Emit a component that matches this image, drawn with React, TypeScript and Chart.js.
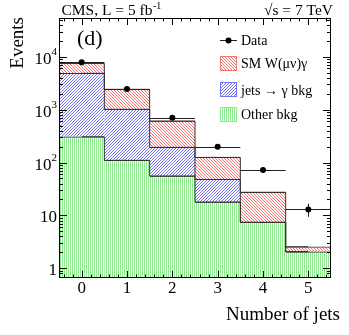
import { useEffect, useRef } from "react";
import { Chart, registerables } from "chart.js";

Chart.register(...registerables);

// ---- data ----
const categories = ["0", "1", "2", "3", "4", "5"];
const otherBkg = [307, 110, 55.6, 17.9, 7.4, 2.06];
const jetsBkg = [4553, 903, 138, 30, 0, 0];
const smWgamma = [2640, 1407, 415, 77, 20, 0.5];
const dataEvents = [7840, 2450, 703, 199, 72, 13];
const xTickLabels = ["0", "1", "2", "3", "4", "5"];
const yTickValues = [1, 10, 100, 1000, 10000];
const yTickBase = ["1", "10", "10", "10", "10"];
const yTickExp = ["", "", "2", "3", "4"];

const Y_MIN = 0.656;
const Y_MAX = 54000;

const FONT = '"Liberation Serif", "Times New Roman", serif';

const RED = "rgb(250,115,115)";
const BLUE = "rgb(115,115,250)";
const GREEN = "rgb(145,232,145)";
const OUTLINE = "#333333";

function hatch(color: string, kind: "fwd" | "back" | "vert", period: number): CanvasPattern {
  const c = document.createElement("canvas");
  c.width = period;
  c.height = period;
  const g = c.getContext("2d")!;
  g.fillStyle = "#ffffff";
  g.fillRect(0, 0, period, period);
  g.fillStyle = color;
  for (let i = 0; i < period; i++) {
    if (kind === "vert") g.fillRect(0, i, 1, 1);
    else if (kind === "back") g.fillRect(i, i, 1, 1);
    else g.fillRect(i, period - 1 - i, 1, 1);
  }
  return g.createPattern(c, "repeat")!;
}

export default function App() {
  const ref = useRef<HTMLCanvasElement | null>(null);

  useEffect(() => {
    const canvas = ref.current;
    if (!canvas) return;

    const redPat = hatch(RED, "back", 3);
    const bluePat = hatch(BLUE, "fwd", 3);
    const greenPat = hatch(GREEN, "vert", 2);

    const cumOther = otherBkg.slice();
    const cumJets = otherBkg.map((v, i) => v + jetsBkg[i]);
    const cumSM = cumJets.map((v, i) => v + smWgamma[i]);

    const DATA_INDEX = 0;

    const decor = {
      id: "decor",
      beforeDatasetDraw(chart: any, args: any) {
        if (args.index !== DATA_INDEX) return;
        const { ctx, chartArea: a, scales } = chart;
        const xs = scales.x;
        const ys = scales.y;
        ctx.save();
        ctx.beginPath();
        ctx.rect(a.left, a.top, a.right - a.left, a.bottom - a.top);
        ctx.clip();
        ctx.strokeStyle = "#222";
        ctx.lineWidth = 1;
        dataEvents.forEach((v, i) => {
          const x0 = xs.getPixelForValue(i - 0.5);
          const x1 = xs.getPixelForValue(i + 0.5);
          const xc = Math.round(xs.getPixelForValue(i)) + 0.5;
          const y = Math.round(ys.getPixelForValue(v)) + 0.5;
          const e = Math.sqrt(v);
          const yHi = ys.getPixelForValue(v + e);
          const yLo = ys.getPixelForValue(Math.max(v - e, Y_MIN * 0.5));
          ctx.beginPath();
          ctx.moveTo(x0, y);
          ctx.lineTo(x1, y);
          ctx.moveTo(xc, yHi);
          ctx.lineTo(xc, yLo);
          ctx.stroke();
        });
        ctx.restore();
      },
      afterDraw(chart: any) {
        const { ctx, chartArea: a, scales } = chart;
        const xs = scales.x;
        const ys = scales.y;
        ctx.save();
        ctx.strokeStyle = "#000";
        ctx.lineWidth = 1;
        // frame
        ctx.strokeRect(a.left + 0.5, a.top + 0.5, a.right - a.left - 1, a.bottom - a.top - 1);

        ctx.beginPath();
        // x ticks (bottom and top, inward)
        for (let k = -2; k <= 27; k++) {
          const v = k * 0.2;
          const isMajor = Math.abs(v - Math.round(v)) < 1e-6;
          const len = isMajor ? 7 : 3.5;
          const x = Math.round(xs.getPixelForValue(v)) + 0.5;
          if (x <= a.left + 1 || x >= a.right - 1) continue;
          ctx.moveTo(x, a.bottom);
          ctx.lineTo(x, a.bottom - len);
          ctx.moveTo(x, a.top);
          ctx.lineTo(x, a.top + len);
        }
        // y ticks (left and right, inward)
        for (let d = -1; d <= 4; d++) {
          for (let m = 1; m <= 9; m++) {
            const v = m * Math.pow(10, d);
            if (v < Y_MIN || v > Y_MAX) continue;
            const len = m === 1 ? 8 : 4;
            const y = Math.round(ys.getPixelForValue(v)) + 0.5;
            ctx.moveTo(a.left, y);
            ctx.lineTo(a.left + len, y);
            ctx.moveTo(a.right, y);
            ctx.lineTo(a.right - len, y);
          }
        }
        ctx.stroke();

        // x tick labels
        ctx.fillStyle = "#000";
        ctx.font = `17px ${FONT}`;
        ctx.textAlign = "center";
        ctx.textBaseline = "alphabetic";
        xTickLabels.forEach((t, i) => {
          ctx.fillText(t, xs.getPixelForValue(i), 293);
        });

        // y tick labels
        yTickValues.forEach((v, i) => {
          const y = ys.getPixelForValue(v);
          const right = 57;
          let baseRight = right;
          if (yTickExp[i]) {
            ctx.font = `11px ${FONT}`;
            ctx.textAlign = "right";
            ctx.fillText(yTickExp[i], right, y - 1.5);
            baseRight = right - ctx.measureText(yTickExp[i]).width;
          }
          ctx.font = `17px ${FONT}`;
          ctx.textAlign = "right";
          ctx.fillText(yTickBase[i], baseRight, y + 7);
        });

        // axis titles
        ctx.font = `19px ${FONT}`;
        ctx.textAlign = "right";
        ctx.fillText("Number of jets", 340, 320);
        ctx.save();
        ctx.translate(23, 17);
        ctx.rotate(-Math.PI / 2);
        ctx.textAlign = "right";
        ctx.fillText("Events", 0, 0);
        ctx.restore();

        // header
        ctx.font = `15.5px ${FONT}`;
        ctx.textAlign = "left";
        const head = "CMS, L = 5 fb";
        ctx.fillText(head, 61.5, 15);
        const hw = ctx.measureText(head).width;
        ctx.font = `10px ${FONT}`;
        ctx.fillText("-1", 61.5 + hw + 0.5, 9);
        ctx.font = `15.5px ${FONT}`;
        ctx.textAlign = "right";
        ctx.fillText("\u221As = 7 TeV", 333, 15);

        // panel label
        ctx.font = `22px ${FONT}`;
        ctx.textAlign = "left";
        ctx.fillText("(d)", 77, 45);

        // legend
        const lx0 = 220;
        const lx1 = 237;
        const tx = 241;
        ctx.font = `14px ${FONT}`;
        ctx.textAlign = "left";
        const yData = 40;
        ctx.strokeStyle = "#222";
        ctx.beginPath();
        ctx.moveTo(lx0, yData + 0.5);
        ctx.lineTo(lx1, yData + 0.5);
        ctx.stroke();
        ctx.fillStyle = "#000";
        ctx.beginPath();
        ctx.arc((lx0 + lx1) / 2, yData + 0.5, 3, 0, Math.PI * 2);
        ctx.fill();
        ctx.fillText("Data", tx, yData + 5);

        const entries: [string, CanvasPattern, string, number][] = [
          ["SM W(\u03BC\u03BD)\u03B3", redPat, RED, 63],
          ["jets \u2192 \u03B3 bkg", bluePat, BLUE, 89.5],
          ["Other bkg", greenPat, GREEN, 114],
        ];
        entries.forEach(([label, pat, col, yc]) => {
          const top = Math.round(yc - 7.5);
          ctx.fillStyle = pat;
          ctx.fillRect(lx0, top, lx1 - lx0, 15);
          ctx.strokeStyle = col;
          ctx.strokeRect(lx0 + 0.5, top + 0.5, lx1 - lx0 - 1, 14);
          ctx.fillStyle = "#000";
          ctx.fillText(label, tx, yc + 5);
        });

        ctx.restore();
      },
    };

    const barCommon = {
      type: "bar" as const,
      grouped: false,
      categoryPercentage: 1,
      barPercentage: 1,
      borderColor: OUTLINE,
      borderWidth: { top: 1, right: 0, bottom: 0, left: 0 },
      borderSkipped: false as const,
      order: 3,
    };
    const stepCommon = {
      type: "line" as const,
      stepped: "middle" as const,
      borderColor: OUTLINE,
      borderWidth: 1,
      pointRadius: 0,
      fill: false,
      order: 2,
    };

    const chart = new Chart(canvas, {
      type: "bar",
      data: {
        labels: categories,
        datasets: [
          {
            type: "line",
            label: "Data",
            data: dataEvents,
            showLine: false,
            pointRadius: 3,
            pointBackgroundColor: "#000",
            pointBorderColor: "#000",
            pointBorderWidth: 0,
            order: 0,
          } as any,
          { ...barCommon, label: "Other bkg", data: otherBkg.map((v) => [Y_MIN * 0.1, v]), backgroundColor: greenPat } as any,
          { ...barCommon, label: "jets bkg", data: cumJets.map((v, i) => [cumOther[i], v]), backgroundColor: bluePat } as any,
          { ...barCommon, label: "SM", data: cumSM.map((v, i) => [cumJets[i], v]), backgroundColor: redPat } as any,
          { ...stepCommon, label: "o1", data: cumOther } as any,
          { ...stepCommon, label: "o2", data: cumJets } as any,
          { ...stepCommon, label: "o3", data: cumSM } as any,
        ],
      },
      options: {
        animation: false,
        responsive: false,
        maintainAspectRatio: false,
        layout: { padding: { left: 59, right: 18, top: 18, bottom: 57 } },
        plugins: { legend: { display: false }, tooltip: { enabled: false }, title: { display: false } },
        scales: {
          x: { type: "category", display: false, offset: true },
          y: { type: "logarithmic", display: false, min: Y_MIN, max: Y_MAX },
        },
      },
      plugins: [decor],
    });

    return () => chart.destroy();
  }, []);

  return (
    <div style={{ position: "absolute", left: 0, top: 0, width: 349, height: 335, background: "#fff" }}>
      <canvas ref={ref} width={349} height={335} style={{ width: 349, height: 335, display: "block" }} />
    </div>
  );
}
